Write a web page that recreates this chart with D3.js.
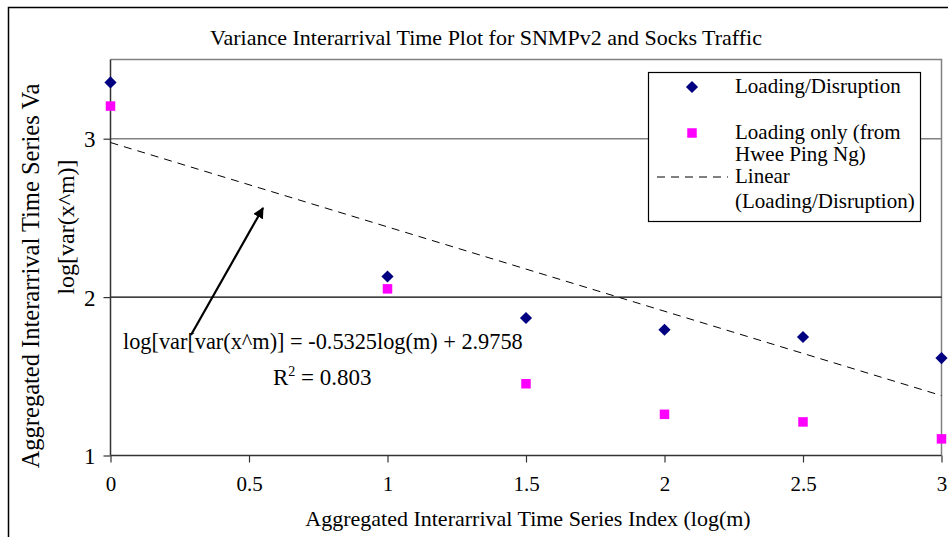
<!DOCTYPE html>
<html>
<head>
<meta charset="utf-8">
<script src="https://cdn.jsdelivr.net/npm/d3@7"></script>
<style>
  html, body { margin: 0; padding: 0; background: #fff; }
  svg { display: block; font-family: "Liberation Serif", "Times New Roman", serif; }
</style>
</head>
<body>
<svg id="chart" width="948" height="537"></svg>
<script>
// log(m) positions of the aggregation levels
const logM = [0, 1, 1.5, 2, 2.5, 3];
// log variance, loading with disruption
const loadingDisruption = [3.355, 2.13, 1.868, 1.794, 1.748, 1.615];
// log variance, loading only
const loadingOnly = [3.206, 2.052, 1.453, 1.26, 1.212, 1.105];
// fitted trend for the loading/disruption series
const trendSlope = -0.5325;
const trendIntercept = 2.9758;
const xTicks = [0, 0.5, 1, 1.5, 2, 2.5, 3];
const yTicks = [1, 2, 3];

const svg = d3.select("#chart");

// outer chart frame
svg.append("rect")
  .attr("x", 8.5).attr("y", 7.5).attr("width", 960).attr("height", 560)
  .attr("fill", "#fff").attr("stroke", "#000").attr("stroke-width", 1.5);

const plot = { left: 110.5, right: 941.5, top: 59.5, bottom: 455.5 };

const x = d3.scaleLinear().domain([0, 3]).range([plot.left, plot.right]);
const y = d3.scaleLinear().domain([1, 3.5]).range([plot.bottom, plot.top]);

// plot area frame (top and right)
svg.append("path")
  .attr("d", `M${plot.left},${plot.top}H${plot.right}V${plot.bottom}`)
  .attr("fill", "none").attr("stroke", "#808080").attr("stroke-width", 1.5);

// horizontal gridlines
svg.append("line")
  .attr("x1", plot.left).attr("x2", plot.right)
  .attr("y1", y(3)).attr("y2", y(3))
  .attr("stroke", "#808080").attr("stroke-width", 1.5);
svg.append("line")
  .attr("x1", plot.left).attr("x2", plot.right)
  .attr("y1", y(2)).attr("y2", y(2))
  .attr("stroke", "#000").attr("stroke-width", 1.2);

// y axis
const yAxis = svg.append("g")
  .attr("transform", `translate(${plot.left},0)`)
  .call(d3.axisLeft(y).tickValues(yTicks).tickFormat(d3.format("d")).tickSize(7).tickPadding(8));
yAxis.select(".domain").attr("stroke", "#333").attr("stroke-width", 1.5).attr("d", `M0,${plot.top}V${plot.bottom}`);
yAxis.selectAll(".tick line").attr("stroke", "#333").attr("stroke-width", 1.2);
yAxis.selectAll(".tick text").attr("font-size", 23).attr("font-family", "Liberation Serif").attr("fill", "#000").attr("dy", "0.35em");

// x axis
const xAxis = svg.append("g")
  .attr("transform", `translate(0,${plot.bottom})`)
  .call(d3.axisBottom(x).tickValues(xTicks).tickFormat(d3.format("")).tickSize(7).tickPadding(14));
xAxis.select(".domain").attr("stroke", "#333").attr("stroke-width", 1.5).attr("d", `M${plot.left},0H${plot.right}`);
xAxis.selectAll(".tick line").attr("stroke", "#333").attr("stroke-width", 1.2);
xAxis.selectAll(".tick text").attr("font-size", 21).attr("font-family", "Liberation Serif").attr("fill", "#000");

// linear trend line
svg.append("line")
  .attr("x1", x(0)).attr("y1", y(trendIntercept + trendSlope * 0))
  .attr("x2", x(3)).attr("y2", y(trendIntercept + trendSlope * 3))
  .attr("stroke", "#000").attr("stroke-width", 1).attr("stroke-dasharray", "8,6");

// markers
const diamond = d3.symbol().type(d3.symbolDiamond2).size(95);
const square = d3.symbol().type(d3.symbolSquare2).size(115);

svg.append("g").selectAll("path")
  .data(logM.map((m, i) => [m, loadingOnly[i]]))
  .join("path")
  .attr("d", square)
  .attr("transform", d => `translate(${x(d[0])},${y(d[1])})`)
  .attr("fill", "#ff00ff");

svg.append("g").selectAll("path")
  .data(logM.map((m, i) => [m, loadingDisruption[i]]))
  .join("path")
  .attr("d", diamond)
  .attr("transform", d => `translate(${x(d[0])},${y(d[1])})`)
  .attr("fill", "#000080");

// title
svg.append("text")
  .attr("x", 486).attr("y", 45)
  .attr("text-anchor", "middle").attr("font-size", 22)
  .text("Variance Interarrival Time Plot for SNMPv2 and Socks Traffic");

// axis titles
svg.append("text")
  .attr("x", 528).attr("y", 526)
  .attr("text-anchor", "middle").attr("font-size", 22)
  .text("Aggregated Interarrival Time Series Index (log(m)");

svg.append("text")
  .attr("transform", "translate(39,276) rotate(-90)")
  .attr("text-anchor", "middle").attr("font-size", 24.5)
  .text("Aggregated Interarrival Time Series Va");

svg.append("text")
  .attr("transform", "translate(74,227) rotate(-90)")
  .attr("text-anchor", "middle").attr("font-size", 24)
  .text("log[var(x^m)]");

// trend equation annotation
svg.append("text")
  .attr("x", 123).attr("y", 349)
  .attr("font-size", 22.3)
  .text("log[var[var(x^m)] = -0.5325log(m) + 2.9758");

const r2 = svg.append("text")
  .attr("x", 273).attr("y", 385)
  .attr("font-size", 23);
r2.append("tspan").text("R");
r2.append("tspan").attr("font-size", 14).attr("dy", -9).text("2");
r2.append("tspan").attr("dy", 9).text(" = 0.803");

// arrow pointing at the trend line
svg.append("defs").append("marker")
  .attr("id", "arrowhead")
  .attr("viewBox", "0 0 10 10")
  .attr("refX", 9).attr("refY", 5)
  .attr("markerWidth", 5).attr("markerHeight", 5)
  .attr("orient", "auto")
  .append("path").attr("d", "M0,0L10,5L0,10z").attr("fill", "#000");

svg.append("line")
  .attr("x1", 191).attr("y1", 335)
  .attr("x2", 263).attr("y2", 208)
  .attr("stroke", "#000").attr("stroke-width", 2.2)
  .attr("marker-end", "url(#arrowhead)");

// legend
const legend = svg.append("g");
legend.append("rect")
  .attr("x", 648.5).attr("y", 72.5).attr("width", 272).attr("height", 149)
  .attr("fill", "#fff").attr("stroke", "#000").attr("stroke-width", 1.2);

legend.append("path").attr("d", diamond).attr("transform", "translate(692,87)").attr("fill", "#000080");
legend.append("path").attr("d", square).attr("transform", "translate(692,133)").attr("fill", "#ff00ff");
legend.append("line")
  .attr("x1", 657).attr("x2", 728).attr("y1", 177).attr("y2", 177)
  .attr("stroke", "#000").attr("stroke-width", 1).attr("stroke-dasharray", "8,6");

const legendLines = [
  ["Loading/Disruption", 93],
  ["Loading only (from", 139],
  ["Hwee Ping Ng)", 161],
  ["Linear", 183],
  ["(Loading/Disruption)", 208]
];
legend.selectAll("text.item")
  .data(legendLines)
  .join("text")
  .attr("class", "item")
  .attr("x", 735).attr("y", d => d[1])
  .attr("font-size", 21)
  .text(d => d[0]);
</script>
</body>
</html>
